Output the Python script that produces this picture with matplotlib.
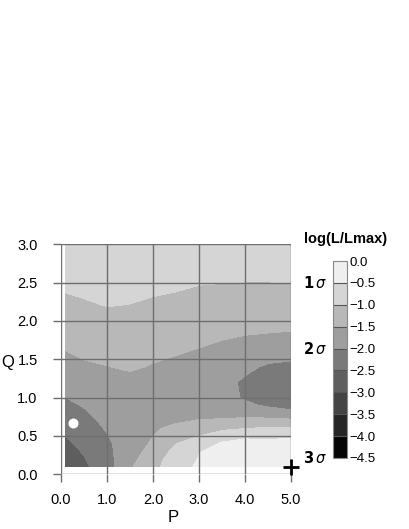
import numpy as np
import matplotlib
matplotlib.use('Agg')
import matplotlib.pyplot as plt
from matplotlib.colors import ListedColormap, BoundaryNorm

plt.rcParams['font.family'] = ['Liberation Sans', 'DejaVu Sans']

p_vals = [0.1, 0.5, 1.0, 1.5, 2.0, 2.5, 3.0, 3.5, 4.0, 4.5, 5.0]
q_vals = [0.1, 0.2, 0.3, 0.4, 0.5, 0.6, 0.7, 0.8, 0.9, 1.0,
          1.2, 1.4, 1.6, 1.8, 2.0, 2.2, 2.4, 2.6, 3.0]

# one column of log(L/Lmax) per P value, listed along q_vals
z_p01 = [-2.9, -2.8, -2.7, -2.59, -2.49, -2.39, -2.29, -2.19, -2.1, -2.0,
         -1.83, -1.67, -1.51, -1.37, -1.24, -1.11, -0.98, -0.9, -0.78]
z_p05 = [-2.6, -2.53, -2.45, -2.37, -2.29, -2.21, -2.13, -2.05, -1.97, -1.89,
         -1.73, -1.57, -1.42, -1.3, -1.18, -1.05, -0.94, -0.86, -0.76]
z_p10 = [-2.2, -2.17, -2.13, -2.08, -2.02, -1.96, -1.9, -1.84, -1.79, -1.73,
         -1.62, -1.51, -1.39, -1.28, -1.17, -0.99, -0.9, -0.84, -0.75]
z_p15 = [-1.55, -1.62, -1.68, -1.73, -1.77, -1.8, -1.82, -1.83, -1.82, -1.78,
         -1.62, -1.45, -1.36, -1.27, -1.17, -1.01, -0.92, -0.86, -0.76]
z_p20 = [-1.19, -1.27, -1.36, -1.44, -1.51, -1.56, -1.61, -1.65, -1.68, -1.69,
         -1.64, -1.53, -1.41, -1.3, -1.19, -1.07, -0.95, -0.88, -0.77]
z_p25 = [-0.58, -0.7, -0.85, -1.01, -1.2, -1.4, -1.56, -1.65, -1.7, -1.72,
         -1.68, -1.59, -1.47, -1.34, -1.2, -1.09, -0.99, -0.9, -0.78]
z_p30 = [-0.47, -0.485, -0.51, -0.75, -1.01, -1.3, -1.48, -1.62, -1.7, -1.75,
         -1.75, -1.66, -1.53, -1.4, -1.27, -1.14, -1.03, -0.94, -0.8]
z_p35 = [-0.36, -0.4, -0.44, -0.45, -0.7, -1.12, -1.45, -1.65, -1.78, -1.86,
         -1.88, -1.78, -1.62, -1.46, -1.33, -1.2, -1.04, -0.95, -0.8]
z_p40 = [-0.24, -0.3, -0.37, -0.42, -0.55, -1.01, -1.38, -1.68, -1.92, -2.04,
         -2.06, -1.92, -1.72, -1.51, -1.36, -1.22, -1.06, -0.95, -0.8]
z_p45 = [-0.12, -0.2, -0.3, -0.4, -0.58, -0.95, -1.36, -1.78, -2.06, -2.17,
         -2.2, -2.05, -1.82, -1.53, -1.39, -1.24, -1.05, -0.96, -0.8]
z_p50 = [-0.01, -0.12, -0.25, -0.38, -0.56, -0.92, -1.4, -1.9, -2.14, -2.24,
         -2.27, -2.1, -1.85, -1.55, -1.4, -1.24, -1.03, -0.96, -0.8]

levels = [-4.5, -4.0, -3.5, -3.0, -2.5, -2.0, -1.5, -1.0, -0.5, 0.0]
band_colors = ['#050505', '#262626', '#444444', '#5e5e5e', '#7a7a7a',
               '#9e9e9e', '#b8b8b8', '#d5d5d5', '#efefef']
level_labels = ['\u22124.5', '\u22124.0', '\u22123.5', '\u22123.0', '\u22122.5',
                '\u22122.0', '\u22121.5', '\u22121.0', '\u22120.5', '0.0']
sigma_levels = [-0.5, -2.0, -4.5]
sigma_names = ['1', '2', '3']

best_fit = (0.27, 0.67)
max_point = (5.0, 0.1)

Z = np.column_stack([z_p01, z_p05, z_p10, z_p15, z_p20, z_p25,
                     z_p30, z_p35, z_p40, z_p45, z_p50])

fig = plt.figure(figsize=(4.09, 5.29), dpi=100)
ax = fig.add_axes([61 / 409, 1 - 474.3 / 529, 230 / 409, 230 / 529])
cax = fig.add_axes([333 / 409, 1 - 458 / 529, 14 / 409, 197 / 529])

cmap = ListedColormap(band_colors)
norm = BoundaryNorm(levels, cmap.N)
cs = ax.contourf(p_vals, q_vals, Z, levels=levels, cmap=cmap, norm=norm)

grid_col = '#6e6e6e'
ax.set_xlim(0, 5)
ax.set_ylim(0, 3)
ax.set_xticks(np.arange(0, 5.1, 1.0))
ax.set_yticks(np.arange(0, 3.01, 0.5))
ax.set_xticklabels(['0.0', '1.0', '2.0', '3.0', '4.0', '5.0'])
ax.set_yticklabels(['0.0', '0.5', '1.0', '1.5', '2.0', '2.5', '3.0'])
ax.grid(True, color=grid_col, linewidth=1.0)
ax.set_axisbelow(False)
for s in ax.spines.values():
    s.set_visible(False)
ax.tick_params(axis='both', direction='out', length=5.8, width=1.0,
               color=grid_col, labelsize=10.5)
ax.tick_params(axis='x', pad=8)
ax.tick_params(axis='y', pad=11)

ax.plot(*best_fit, 'o', color='white', markersize=7.2, markeredgewidth=0, zorder=5)
ax.plot(*max_point, '+', color='black', markersize=12, markeredgewidth=2,
        clip_on=False, zorder=6)

ax.set_xlabel('P', fontsize=12, va='center')
ax.set_ylabel('Q', fontsize=12, rotation=0, va='center', ha='center')
ax.xaxis.set_label_coords(0.487, -0.188)
ax.yaxis.set_label_coords(-0.23, 0.488)

cb = fig.colorbar(cs, cax=cax, drawedges=True)
cb.set_ticks(levels)
cb.set_ticklabels(level_labels)
cb.ax.tick_params(length=0, pad=2, labelsize=9.5)
cb.dividers.set_color('#555555')
cb.dividers.set_linewidth(0.8)
cb.outline.set_edgecolor('#888888')
cb.outline.set_linewidth(0.8)

for lev, name in zip(sigma_levels, sigma_names):
    cax.text(-0.45, lev, r'$\mathbf{%s}\,\sigma$' % name, transform=cax.get_yaxis_transform(),
             ha='right', va='center', fontsize=10.5)

fig.text(346 / 409, 1 - 239 / 529, 'log(L/Lmax)', ha='center', va='center',
         fontsize=10.5, fontweight='bold')

fig.savefig('out.png', dpi=100)
